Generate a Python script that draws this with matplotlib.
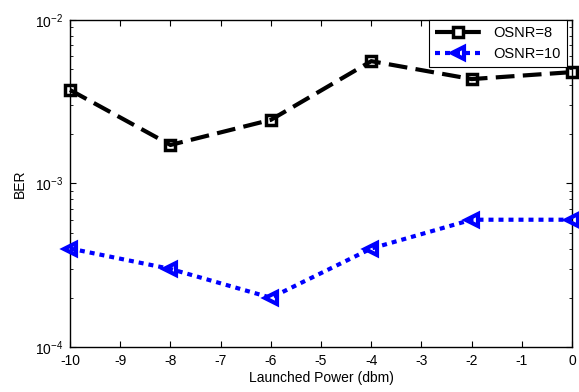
import numpy as np
import matplotlib
matplotlib.use('Agg')
import matplotlib.pyplot as plt

plt.rcParams['font.family'] = ['Liberation Sans', 'DejaVu Sans']
plt.rcParams['font.size'] = 10
plt.rcParams['axes.unicode_minus'] = False

power = [-10, -8, -6, -4, -2, 0]
ber_osnr8 = [3.73e-3, 1.72e-3, 2.45e-3, 5.6e-3, 4.35e-3, 4.8e-3]
ber_osnr10 = [4.0e-4, 3.0e-4, 2.0e-4, 4.0e-4, 6.0e-4, 6.0e-4]

fig = plt.figure(figsize=(5.79, 3.92), dpi=100)
ax = fig.add_axes([0.121, 0.115, 0.867, 0.834])

ax.semilogy(power, ber_osnr8, 'k--s', lw=3, ms=7, mfc='none', mew=2.5,
            dashes=(4.5, 2), label='OSNR=8', clip_on=False, zorder=3)
ax.semilogy(power, ber_osnr10, 'b:<', lw=3, ms=9, mfc='none', mew=3,
            dashes=(1.2, 1.2), label='OSNR=10', clip_on=False, zorder=3)

ax.set_xlim(-10, 0)
ax.set_ylim(1e-4, 1e-2)
ax.set_xticks(np.arange(-10, 1, 1))
ax.set_xlabel('Launched Power (dbm)', labelpad=2)
ax.set_ylabel('BER', labelpad=6)
ax.tick_params(which='both', direction='in', top=True, right=True)
ax.tick_params(which='major', length=4, pad=5)
ax.tick_params(which='minor', length=2.5)
for s in ax.spines.values():
    s.set_linewidth(1)

leg = ax.legend(loc='upper right', bbox_to_anchor=(0.989, 1.0),
                fancybox=False, edgecolor='k', framealpha=1,
                borderaxespad=0.0, handlelength=3.2, fontsize=10.5)
leg.get_frame().set_linewidth(0.8)
leg.set_zorder(5)

fig.savefig('out.png', dpi=100)
